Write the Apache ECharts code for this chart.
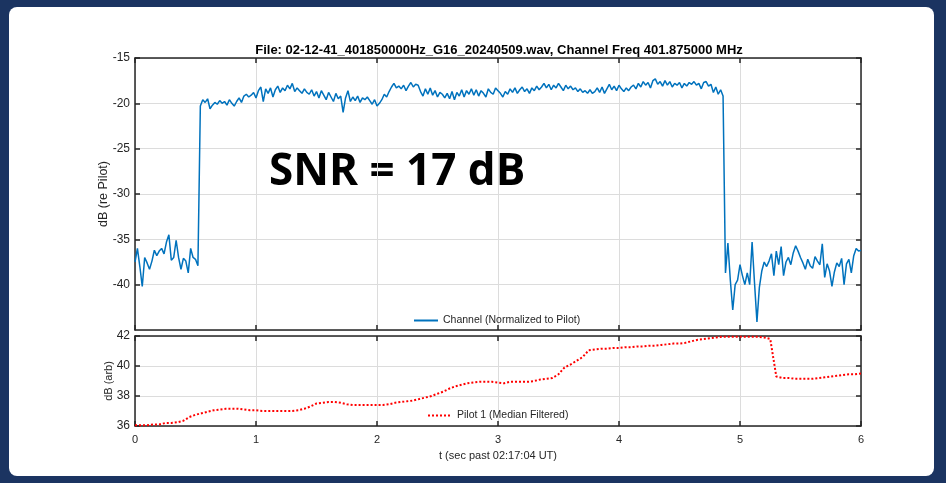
<!DOCTYPE html>
<html>
<head>
<meta charset="utf-8">
<script src="https://cdn.jsdelivr.net/npm/echarts@6/dist/echarts.min.js"></script>
<style>
  html, body { margin: 0; padding: 0; background: #1b3461; }
  .panel { position: absolute; left: 9px; top: 7px; right: 12px; bottom: 7px; background: #fff; border-radius: 8px; }
  #chart { position: absolute; left: 0; top: 0; width: 946px; height: 483px; }
</style>
</head>
<body>
<div class="panel"></div>
<div id="chart"></div>
<script>
// 数据：通道（相对导频）dB，每 0.02 s 一个点，0 ~ 6 s
var chanStep = 0.02;
var chanDb = [
  -37.5,-36.0,-38.0,-40.2,-37.0,-37.6,-38.3,-37.4,-36.2,-36.8,
  -36.3,-36.0,-36.6,-35.3,-34.5,-37.3,-37.0,-35.1,-37.0,-38.3,
  -37.1,-37.4,-38.7,-36.0,-37.0,-37.2,-37.9,-20.3,-19.6,-19.9,
  -19.5,-20.6,-20.2,-19.9,-20.1,-19.7,-20.0,-19.8,-20.2,-19.6,
  -20.0,-20.3,-19.8,-19.4,-19.9,-19.2,-19.0,-19.3,-19.1,-18.8,
  -19.4,-18.6,-18.2,-19.8,-18.4,-18.9,-18.3,-19.3,-18.5,-18.1,
  -18.8,-18.3,-18.6,-18.0,-18.4,-17.8,-18.7,-18.3,-18.6,-18.9,
  -18.4,-18.8,-19.0,-18.5,-19.2,-18.7,-19.4,-18.6,-19.1,-19.6,
  -18.8,-19.3,-19.8,-18.9,-19.5,-19.2,-21.0,-19.4,-18.6,-19.8,
  -19.3,-19.7,-19.2,-19.9,-19.4,-19.6,-19.3,-19.7,-20.1,-19.6,
  -20.3,-20.0,-19.6,-19.0,-19.3,-18.7,-18.2,-17.8,-18.3,-18.1,
  -18.4,-18.0,-18.6,-18.1,-17.7,-18.2,-17.9,-18.0,-18.7,-19.2,
  -18.4,-19.0,-18.3,-19.1,-18.6,-19.3,-18.8,-19.0,-19.4,-18.9,
  -19.5,-18.7,-19.6,-18.8,-19.2,-18.5,-19.3,-18.6,-19.0,-18.4,
  -19.1,-18.5,-19.2,-18.6,-18.9,-19.3,-18.4,-18.8,-19.0,-18.3,
  -18.6,-18.9,-19.3,-18.7,-19.0,-18.4,-18.8,-18.3,-18.9,-18.5,
  -18.2,-18.7,-18.4,-18.9,-18.3,-18.6,-18.1,-18.5,-18.2,-17.8,
  -18.3,-17.9,-18.5,-18.0,-18.3,-17.8,-18.2,-18.6,-18.0,-18.4,
  -18.1,-18.5,-18.3,-18.7,-18.4,-18.8,-18.6,-18.9,-18.5,-18.9,
  -18.7,-18.3,-18.8,-18.2,-18.9,-18.4,-17.9,-18.5,-18.1,-18.6,
  -18.0,-18.4,-18.7,-18.3,-18.6,-18.2,-18.0,-18.4,-17.8,-18.2,
  -17.6,-18.0,-17.7,-18.3,-17.5,-17.3,-17.9,-17.6,-18.1,-17.5,
  -18.0,-17.6,-18.2,-17.8,-18.0,-17.7,-18.3,-17.8,-18.1,-17.7,
  -17.9,-17.6,-18.0,-17.8,-18.4,-17.7,-17.6,-18.1,-17.9,-18.8,
  -18.2,-19.0,-18.5,-19.2,-38.7,-35.4,-39.5,-42.8,-40.0,-39.5,
  -37.8,-39.0,-40.0,-38.7,-40.0,-35.3,-39.8,-44.1,-40.3,-38.5,
  -37.5,-38.0,-37.4,-36.6,-39.0,-36.3,-37.8,-35.8,-39.0,-37.5,
  -37.0,-37.8,-36.5,-35.7,-36.3,-37.0,-37.6,-38.3,-37.2,-37.9,
  -38.2,-36.9,-37.4,-37.8,-35.5,-39.2,-37.7,-38.5,-40.2,-38.6,
  -37.6,-38.0,-37.1,-40.0,-37.7,-37.2,-38.7,-36.8,-36.0,-36.3,
  -36.2
];

// 导频 1（中值滤波）dB，每 0.05 s 一个点
var pilotStep = 0.05;
var pilotDb = [
  36.05,36.05,36.05,36.1,36.1,36.2,36.2,36.25,36.35,36.6,
  36.75,36.85,36.95,37.05,37.1,37.15,37.15,37.15,37.1,37.05,
  37.05,37.0,37.0,37.0,37.0,37.0,37.0,37.05,37.15,37.3,
  37.5,37.55,37.6,37.6,37.55,37.45,37.4,37.4,37.4,37.4,
  37.4,37.4,37.45,37.55,37.6,37.65,37.7,37.8,37.9,38.0,
  38.15,38.3,38.5,38.65,38.75,38.85,38.9,38.95,38.95,38.95,
  38.9,38.85,38.95,38.95,38.95,38.95,39.0,39.1,39.15,39.2,
  39.45,39.9,40.1,40.35,40.6,41.05,41.1,41.15,41.15,41.2,
  41.2,41.25,41.25,41.3,41.3,41.35,41.35,41.4,41.45,41.5,
  41.5,41.55,41.65,41.75,41.8,41.85,41.9,41.95,41.95,41.95,
  41.95,41.95,41.95,41.95,41.9,41.8,39.3,39.2,39.2,39.15,
  39.15,39.15,39.15,39.2,39.25,39.3,39.35,39.4,39.45,39.45,
  39.5
];

var titleText = 'File: 02-12-41_401850000Hz_G16_20240509.wav, Channel Freq 401.875000 MHz';
var chanName = 'Channel (Normalized to Pilot)';
var pilotName = 'Pilot 1 (Median Filtered)';

function toPairs(arr, step) {
  return arr.map(function (v, i) { return [+(i * step).toFixed(2), v]; });
}

var chart = echarts.init(document.getElementById('chart'));

var FONT = '"Liberation Sans", Arial, sans-serif';
var AX = '#262626';
var GRIDC = '#dcdcdc';

// 坐标轴公共样式（MATLAB 风格：刻度朝内，四周边框）
function xAx(grid, pos, showLabel, showName) {
  return {
    type: 'value', gridIndex: grid, position: pos, min: 0, max: 6, interval: 1,
    axisLine: { show: true, onZero: false, lineStyle: { color: AX, width: 1.5 } },
    axisTick: { show: true, inside: true, length: 5, lineStyle: { color: AX, width: 1.5 } },
    axisLabel: { show: showLabel, color: AX, fontSize: 11, fontFamily: FONT, margin: 8 },
    splitLine: { show: pos === 'bottom', lineStyle: { color: GRIDC, width: 1 } },
    name: showName ? 't (sec past 02:17:04 UT)' : '',
    nameLocation: 'middle', nameGap: 24, nameMoveOverlap: false,
    nameTextStyle: { color: AX, fontSize: 11, fontFamily: FONT }
  };
}
function yAx(grid, pos, min, max, step, showLabel, name, gap, nameSize) {
  return {
    type: 'value', gridIndex: grid, position: pos, min: min, max: max, interval: step,
    axisLine: { show: true, onZero: false, lineStyle: { color: AX, width: 1.5 } },
    axisTick: { show: true, inside: true, length: 5, lineStyle: { color: AX, width: 1.5 } },
    axisLabel: { show: showLabel, color: AX, fontSize: 12, fontFamily: FONT, margin: 5, showMinLabel: grid === 1 },
    splitLine: { show: pos === 'left', lineStyle: { color: GRIDC, width: 1 } },
    name: name || '', nameLocation: 'middle', nameGap: gap || 20, nameMoveOverlap: false,
    nameTextStyle: { color: AX, fontSize: nameSize || 11, fontFamily: FONT }
  };
}

var option = {
  animation: false,
  title: {
    text: titleText, left: 494, top: 39, textAlign: 'center',
    textStyle: { fontSize: 13, fontWeight: 'bold', color: '#000', fontFamily: FONT }
  },
  grid: [
    { left: 135, right: 85, top: 58, height: 272 },
    { left: 135, right: 85, top: 336, height: 90 }
  ],
  xAxis: [
    xAx(0, 'bottom', false, false),
    xAx(0, 'top', false, false),
    xAx(1, 'bottom', true, true),
    xAx(1, 'top', false, false)
  ],
  yAxis: [
    yAx(0, 'left', -45, -15, 5, true, 'dB (re Pilot)', 25, 12.5),
    yAx(0, 'right', -45, -15, 5, false),
    yAx(1, 'left', 36, 42, 2, true, 'dB (arb)', 21, 11),
    yAx(1, 'right', 36, 42, 2, false)
  ],
  legend: [
    {
      data: [chanName], left: 408, top: 310, itemWidth: 24, itemHeight: 8,
      itemStyle: { opacity: 0 },
      textStyle: { color: AX, fontSize: 10.5, fontFamily: FONT }
    },
    {
      data: [pilotName], left: 422, top: 405, itemWidth: 24, itemHeight: 8,
      itemStyle: { opacity: 0 },
      textStyle: { color: AX, fontSize: 10.5, fontFamily: FONT }
    }
  ],
  graphic: [{
    type: 'text', left: 269, top: 150,
    style: { text: 'SNR = 17 dB', font: 'bold 44px "Open Sans", sans-serif', fill: '#000' }
  }],
  series: [
    {
      name: chanName, type: 'line', xAxisIndex: 0, yAxisIndex: 0,
      data: toPairs(chanDb, chanStep), symbol: 'none',
      lineStyle: { color: '#0072BD', width: 1.5 }, itemStyle: { color: '#0072BD' }
    },
    {
      name: pilotName, type: 'line', xAxisIndex: 2, yAxisIndex: 2,
      data: toPairs(pilotDb, pilotStep), symbol: 'none',
      lineStyle: { color: '#ff0000', width: 2, type: 'dotted' }, itemStyle: { color: '#ff0000' }
    }
  ]
};

chart.setOption(option);
</script>
</body>
</html>
